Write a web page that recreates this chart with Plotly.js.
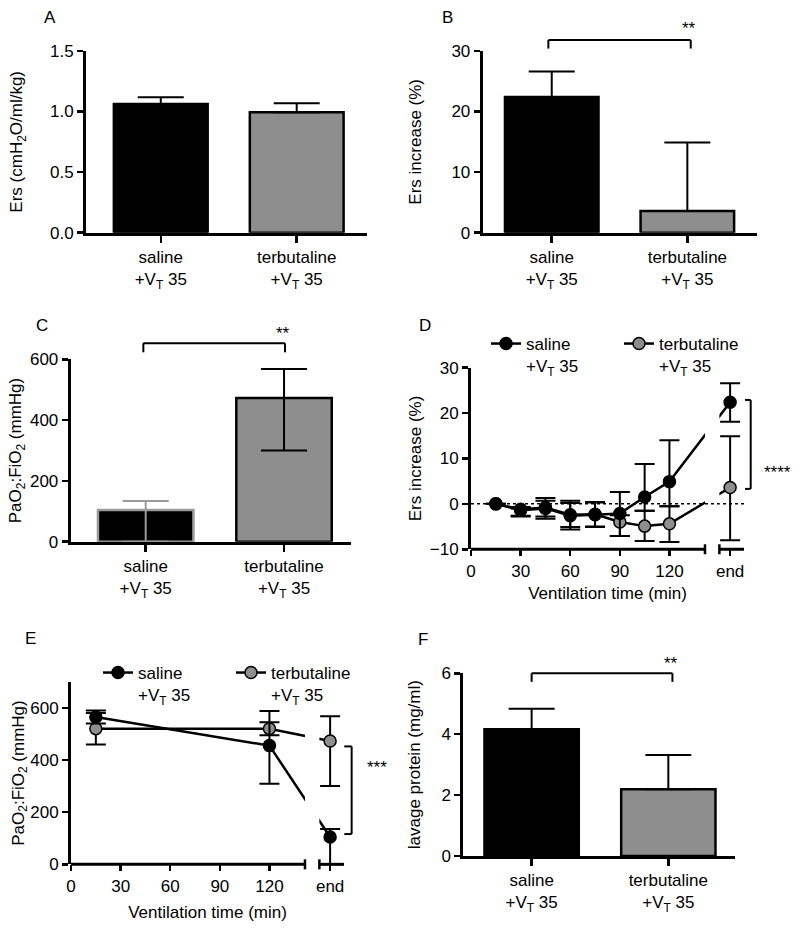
<!DOCTYPE html>
<html>
<head>
<meta charset="utf-8">
<script src="https://cdn.plot.ly/plotly-3.0.1.min.js"></script>
<style>body{margin:0;background:#fff}</style>
</head>
<body>
<div id="fig" style="width:800px;height:930px"></div>
<script>
// ---- data ----
const groups = ["saline<br>+V<sub>T</sub> 35", "terbutaline<br>+V<sub>T</sub> 35"];

// A: baseline elastance
const ersBase = [1.063, 0.995];
const ersBaseErr = [0.055, 0.073];
// B: Ers increase at end of ventilation
const ersInc = [22.4, 3.6];
const ersIncErr = [4.2, 11.3];
// C: PaO2:FiO2 at end (median, IQR)
const pfEnd = [104, 473];
const pfEndUp = [30, 95];
const pfEndDown = [104, 173];
// F: lavage protein
const protein = [4.16, 2.19];
const proteinErr = [0.68, 1.13];

// D: Ers increase over time ("end" sits after the axis break)
const tEnd = 156.7;
const timeD = [15, 30, 45, 60, 75, 90, 105, 120, tEnd];
const salineD = [0, -1.4, -1.0, -2.6, -2.4, -2.1, 1.5, 4.9, 22.4];
const salineDUp = [0, 0.4, 2.3, 3.3, 2.8, 4.7, 7.3, 9.1, 4.2];
const salineDDown = [0, 1.4, 2.3, 2.5, 2.7, 5.0, 3.0, 5.4, 4.3];
const terbD = [0, -1.2, -0.8, -2.4, -2.3, -4.0, -4.9, -4.4, 3.6];
const terbDUp = [0, 0.5, 1.5, 2.6, 2.6, 1.5, 3.4, 3.9, 11.3];
const terbDDown = [0, 1.4, 2.0, 3.25, 2.7, 3.1, 3.3, 4.0, 11.6];

// E: PaO2:FiO2 over time
const timeE = [15, 120, tEnd];
const salineE = [565, 455, 105];
const salineEUp = [25, 133, 30];
const salineEDown = [25, 146, 105];
const terbE = [520, 520, 473];
const terbEUp = [60, 25, 95];
const terbEDown = [61, 25, 173];

// ---- style ----
const FONT = {family: 'Liberation Sans, Arial, sans-serif', size: 17, color: '#000'};
const GREY = '#8e8e8e';
const LINEGREY = '#9a9a9a';

// axis ranges (layout)
const R = {
    x: [-0.55, 1.515], y: [0, 1.5],
    x2: [-0.509, 1.514], y2: [0, 30],
    x3: [-0.542, 1.482], y3: [0, 600],
    x4: [0, 165.1], y4: [-10, 30],
    x5: [0, 165.1], y5: [0, 700],
    x6: [-0.5, 1.488], y6: [0, 6]
};
const fx = (ax, v) => (v - R[ax][0]) / (R[ax][1] - R[ax][0]);

function px2paper(x, y){
    return {x: x / 800, y: 1 - y / 930};
}

function barTrace(xa, ya, idx, values, up, down, fill, edge, errColor){
    return {
        type: 'bar',
        x: [groups[idx]],
        y: [values[idx]],
        width: 0.69,
        xaxis: xa, yaxis: ya,
        marker: {color: fill, line: {color: edge, width: 2.5}},
        error_y: {type: 'data', symmetric: false, array: [up[idx]], arrayminus: [down ? down[idx] : 0],
                  color: errColor, thickness: 2, width: 23},
        showlegend: false, hoverinfo: 'skip'
    };
}

function lineTrace(xa, ya, x, y, up, down, fill, name, legend){
    return {
        type: 'scatter', mode: 'lines+markers',
        x: x, y: y, xaxis: xa, yaxis: ya, name: name, legend: legend,
        line: {color: '#000', width: 2.5},
        marker: {color: fill, size: 12, line: {color: '#000', width: 1.5}},
        error_y: {type: 'data', symmetric: false, array: up, arrayminus: down,
                  color: '#000', thickness: 2, width: 10},
        hoverinfo: 'skip'
    };
}

const data = [
    barTrace('x', 'y', 0, ersBase, ersBaseErr, null, '#000', '#000', '#000'),
    barTrace('x', 'y', 1, ersBase, ersBaseErr, null, GREY, '#000', '#000'),
    barTrace('x2', 'y2', 0, ersInc, ersIncErr, null, '#000', '#000', '#000'),
    barTrace('x2', 'y2', 1, ersInc, ersIncErr, null, GREY, '#000', '#000'),
    barTrace('x3', 'y3', 0, pfEnd, pfEndUp, pfEndDown, '#000', LINEGREY, LINEGREY),
    barTrace('x3', 'y3', 1, pfEnd, pfEndUp, pfEndDown, GREY, '#000', '#000'),
    barTrace('x6', 'y6', 0, protein, proteinErr, null, '#000', '#000', '#000'),
    barTrace('x6', 'y6', 1, protein, proteinErr, null, GREY, '#000', '#000'),
    lineTrace('x4', 'y4', timeD, terbD, terbDUp, terbDDown, GREY, groups[1], 'legend'),
    lineTrace('x4', 'y4', timeD, salineD, salineDUp, salineDDown, '#000', groups[0], 'legend'),
    lineTrace('x5', 'y5', timeE, terbE, terbEUp, terbEDown, GREY, groups[1], 'legend2'),
    lineTrace('x5', 'y5', timeE, salineE, salineEUp, salineEDown, '#000', groups[0], 'legend2')
];

function yAxis(id, anchor, domain, dtick, title, standoff, fmt){
    return {
        domain: domain, anchor: anchor, range: R[id], tick0: R[id][0], dtick: dtick,
        tickformat: fmt || '', showline: true, linewidth: 3, linecolor: '#000',
        ticks: 'outside', ticklen: 6, tickwidth: 2.5, tickcolor: '#000',
        showgrid: false, zeroline: false, tickfont: FONT,
        title: {text: title, font: FONT, standoff: standoff}
    };
}

function catAxis(id, anchor, domain){
    return {
        domain: domain, anchor: anchor, type: 'category', range: R[id],
        showline: true, linewidth: 3, linecolor: '#000',
        ticks: 'outside', ticklen: 7, tickwidth: 2.5, tickcolor: '#000',
        showgrid: false, zeroline: false, tickfont: FONT
    };
}

function timeAxis(id, anchor, domain, standoff){
    return {
        domain: domain, anchor: anchor, range: R[id],
        tickvals: [0, 30, 60, 90, 120, tEnd], ticktext: ['0', '30', '60', '90', '120', 'end'],
        showline: false, ticks: 'outside', ticklen: 6, tickwidth: 2.5, tickcolor: '#000',
        showgrid: false, zeroline: false, tickfont: FONT,
        title: {text: 'Ventilation time (min)', font: FONT, standoff: standoff}
    };
}

function seg(xa, ya, x0, y0, x1, y1, w, extra){
    return Object.assign({type: 'line', xref: xa + ' domain', yref: ya + ' domain',
        x0: x0, y0: y0, x1: x1, y1: y1, line: {color: '#000', width: w}, layer: 'above'}, extra || {});
}

// significance bracket above a pair of bars
function topBracket(xa, ya, c0, c1, yTop, yDrop){
    const X0 = fx(xa, c0), X1 = fx(xa, c1), T = fx(ya, yTop), D = fx(ya, yDrop);
    return [seg(xa, ya, X0, T, X1, T, 2), seg(xa, ya, X0, T, X0, D, 2), seg(xa, ya, X1, T, X1, D, 2)];
}

// vertical bracket at the right of a time course, x in domain units
function sideBracket(xa, ya, xv, xt, y0, y1){
    const A = fx(ya, y0), B = fx(ya, y1);
    return [seg(xa, ya, xv, A, xv, B, 2), seg(xa, ya, xt, A, xv, A, 2), seg(xa, ya, xt, B, xv, B, 2)];
}

// x axis with a gap before "end"
function brokenAxis(xa, ya, cut0, cut1){
    const a = fx(xa, cut0), b = fx(xa, cut1), h = 5 / 182;
    return [
        seg(xa, ya, a, 0.004, b, 1, 0, {type: 'rect', fillcolor: '#fff', line: {width: 0}}),
        seg(xa, ya, 0, 0, a, 0, 3),
        seg(xa, ya, b, 0, 1, 0, 3),
        seg(xa, ya, a, -h, a, h, 2.5),
        seg(xa, ya, b, -h, b, h, 2.5)
    ];
}

const dotted = {color: '#000', width: 1.5, dash: 'dot'};
const shapes = [].concat(
    topBracket('x2', 'y2', -0.025, 1.025, 31.8, 30.4),
    topBracket('x3', 'y3', -0.017, 1.007, 652.6, 622.9),
    topBracket('x6', 'y6', 0, 1.03, 6.0, 5.72),
    [seg('x4', 'y4', 0, fx('y4', 0), 1, fx('y4', 0), 1.5, {line: dotted, layer: 'below'})],
    brokenAxis('x4', 'y4', 141.5, 150.2),
    [seg('x4', 'y4', fx('x4', 141.5), fx('y4', 0), fx('x4', 150.2), fx('y4', 0), 1.5, {line: dotted})],
    sideBracket('x4', 'y4', 1.0245, 1.0037, 22.9, 3.3),
    brokenAxis('x5', 'y5', 141.5, 150.2),
    sideBracket('x5', 'y5', 1.028, 1.001, 452, 116)
);

function note(text, x, y){
    const p = px2paper(x, y);
    return {text: text, x: p.x, y: p.y, xref: 'paper', yref: 'paper', showarrow: false,
            xanchor: 'center', yanchor: 'middle', font: FONT};
}

const annotations = [
    note('A', 50, 17), note('B', 447, 17), note('C', 42, 325),
    note('D', 425, 325), note('E', 30, 638), note('F', 423, 639),
    note('**', 689, 29), note('**', 283, 333), note('**', 671, 663),
    note('****', 777, 472), note('***', 377, 767)
];

const legendBase = {orientation: 'h', xanchor: 'left', yanchor: 'top', font: FONT,
    bgcolor: 'rgba(0,0,0,0)', valign: 'top', itemwidth: 30,
    entrywidth: 88, entrywidthmode: 'pixels', traceorder: 'reversed'};

const layout = {
    width: 800, height: 930,
    margin: {l: 0, r: 0, t: 0, b: 0},
    paper_bgcolor: '#fff', plot_bgcolor: 'rgba(0,0,0,0)',
    font: FONT, barmode: 'overlay', showlegend: true,
    xaxis: catAxis('x', 'y', [0.1075, 0.4584]),
    yaxis: yAxis('y', 'x', [0.7498, 0.9452], 0.5, 'Ers (cmH<sub>2</sub>O/ml/kg)', 23, '.1f'),
    xaxis2: catAxis('x2', 'y2', [0.6034, 0.9463]),
    yaxis2: yAxis('y2', 'x2', [0.7498, 0.9452], 10, 'Ers increase (%)', 26),
    xaxis3: catAxis('x3', 'y3', [0.0884, 0.4384]),
    yaxis3: yAxis('y3', 'x3', [0.4175, 0.6137], 200, 'PaO<sub>2</sub>:FiO<sub>2</sub> (mmHg)', 4),
    xaxis4: timeAxis('x4', 'y4', [0.5888, 0.93], 7),
    yaxis4: yAxis('y4', 'x4', [0.4094, 0.6046], 10, 'Ers increase (%)', 4),
    xaxis5: timeAxis('x5', 'y5', [0.0888, 0.43], 11),
    yaxis5: yAxis('y5', 'x5', [0.0706, 0.267], 200, 'PaO<sub>2</sub>:FiO<sub>2</sub> (mmHg)', 1),
    xaxis6: catAxis('x6', 'y6', [0.5791, 0.9188]),
    yaxis6: yAxis('y6', 'x6', [0.0796, 0.276], 2, 'lavage protein (mg/ml)', 17),
    legend: Object.assign({}, legendBase, {x: 486 / 800, y: 1 - 326 / 930}),
    legend2: Object.assign({}, legendBase, {x: 98 / 800, y: 1 - 655 / 930}),
    shapes: shapes,
    annotations: annotations
};

Plotly.newPlot('fig', data, layout, {staticPlot: true});
</script>
</body>
</html>
